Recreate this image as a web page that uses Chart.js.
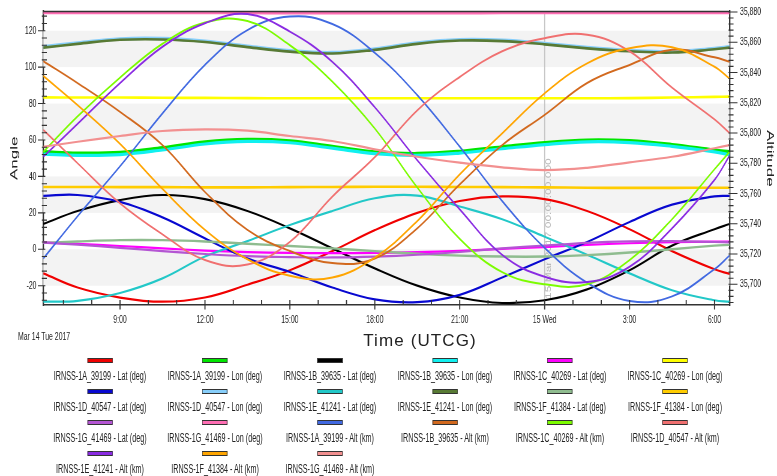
<!DOCTYPE html>
<html>
<head>
<meta charset="utf-8">
<script src="https://cdn.jsdelivr.net/npm/chart.js@4.4.1/dist/chart.umd.min.js"></script>
<style>
  html, body { margin: 0; padding: 0; background: #fff; overflow: hidden; width: 777px; height: 476px; }
  /* the figure is laid out wide and condensed horizontally */
  #stage { position: absolute; left: 0; top: 0; width: 1295px; height: 476px; transform: scaleX(0.6); transform-origin: 0 0; }
  #plot { position: absolute; left: 0; top: 0; }
  #dateLabel { position: absolute; left: 30px; top: 329px; font: 11.5px 'Liberation Sans', Arial, sans-serif; line-height: 14px; color: #222; white-space: nowrap; }
  #timeTitle { position: absolute; left: 320px; width: 200px; top: 330.5px; text-align: center; font: 17px 'Liberation Sans', Arial, sans-serif; letter-spacing: 1.1px; line-height: 20px; color: #222; white-space: nowrap; }
  .item { position: absolute; width: 190px; display: flex; flex-direction: column; align-items: center; }
  .item .box { width: 40px; height: 3px; border: 1px solid #333; }
  .item .txt { margin-top: 6px; font: 12px 'Liberation Sans', Arial, sans-serif; line-height: 14px; color: #222; white-space: nowrap; }
</style>
</head>
<body>
<div id="stage">
  <canvas id="plot" width="1295" height="350"></canvas>
  <div id="dateLabel">Mar 14 Tue 2017</div>
  <div id="legend"></div>
</div>
<div id="timeTitle">Time (UTCG)</div>
<script>
// Sample times, hours from Mar 14 2017 00:00 UTCG
const hours = [6.29, 7.5, 9, 10.5, 12, 13.5, 15, 16.5, 18, 19.5, 21, 22.5, 24, 25.5, 27, 28.5, 30, 30.53];

// Axis ticks
const timeTicks = [9, 12, 15, 18, 21, 24, 27, 30];
const timeTickLabels = ['9:00', '12:00', '15:00', '18:00', '21:00', '15 Wed', '3:00', '6:00'];
const angleTicks = [-20, 0, 20, 40, 60, 80, 100, 120];
const altitudeTicks = [35700, 35720, 35740, 35760, 35780, 35800, 35820, 35840, 35860, 35880];

// Latitude / longitude (deg)
const lat1A = [-13.2, -21, -26.5, -28.8, -26.5, -19.5, -11.5, -1, 10.5, 20, 26.5, 29, 27.5, 21, 11, -1, -11, -13.5];
const lon1A = [53.6, 52.8, 53.2, 55.8, 59, 60.3, 59.5, 56.5, 53.5, 52.6, 53.8, 56.3, 58.6, 60, 59.6, 57.5, 54.5, 53.6];
const lat1B = [13.9, 21, 27, 29.8, 27.5, 21, 11.5, 0.5, -10.5, -20, -26.5, -29.5, -28, -22, -11.5, 2, 11, 13.9];
const lon1B = [52.2, 51.6, 52, 54.5, 57.8, 59.2, 58.5, 55.5, 52.5, 51.6, 52.8, 55.2, 57.5, 59, 58.6, 56.5, 53.5, 51.8];
const lat1C = [3.8, 3, 1.8, 0.5, -0.7, -1.6, -2, -2.1, -2, -1.6, -0.8, 0.2, 1.2, 2.4, 3.3, 3.9, 4.2, 4.2];
const lon1C = [83.4, 83.3, 83.3, 83.2, 83.1, 83, 82.9, 82.9, 82.9, 82.9, 82.9, 82.9, 82.9, 82.9, 83, 83.3, 83.7, 83.8];
const lat1D = [29.3, 29.8, 26, 17.5, 6, -5, -12.5, -21, -27.5, -29, -25, -15.5, -5.5, 4, 15, 24.5, 29, 29.3];
const lon1D = [111.2, 113.3, 115.5, 115.7, 114.3, 111.5, 109, 108, 110, 113.3, 115.1, 114.8, 113, 110.8, 109.2, 108.5, 110.3, 111.2];
const lat1E = [-28.8, -28.3, -24, -16, -4, 4.5, 13.3, 21, 28, 29.5, 23.5, 16.5, 6.9, -3, -13.2, -22.5, -28, -28.8];
const lon1E = [110.7, 112.8, 115, 115.2, 113.8, 111, 108.5, 107.5, 109.5, 112.8, 114.6, 114.3, 112.5, 110.3, 108.7, 108, 109.8, 110.7];
const lat1F = [3.5, 4.3, 5, 5, 4.3, 3, 1.8, 0.5, -1, -2.5, -3.5, -4, -4, -3.2, -1.8, 0, 2, 2.4];
const lon1F = [34.2, 34.2, 34.1, 34.1, 34, 34, 34.1, 34.2, 34.3, 34.3, 34.2, 34.1, 34, 33.8, 33.7, 33.7, 33.8, 33.8];
const lat1G = [3.6, 2.5, 0.8, -1, -2.6, -3.8, -4.3, -4.5, -4, -3, -1.5, 0.5, 2, 3.5, 4.3, 4.5, 4, 3.8];
const lon1G = [129.8, 129.8, 129.8, 129.8, 129.8, 129.8, 129.7, 129.7, 129.7, 129.7, 129.7, 129.8, 129.8, 129.8, 129.8, 129.8, 129.8, 129.8];

// Altitude (km)
const alt1A = [35717, 35745, 35778, 35813, 35845, 35868, 35877, 35872, 35853, 35825, 35791, 35755, 35724, 35701, 35689, 35692, 35710, 35719];
const alt1B = [35847.5, 35833, 35814, 35792, 35761, 35736, 35722, 35714, 35717, 35737, 35766, 35792, 35812, 35833, 35845, 35855, 35850, 35847];
const alt1C = [35787.5, 35811, 35836.6, 35859, 35873, 35874, 35858, 35834, 35803, 35764, 35730, 35708, 35700, 35700, 35716, 35743, 35776, 35787.5];
const alt1D = [35802, 35780, 35753.5, 35733, 35716, 35713, 35728, 35758, 35784, 35815, 35837, 35854, 35862.6, 35865, 35854, 35830, 35809, 35800];
const alt1E = [35784.3, 35806, 35833, 35857, 35872.5, 35878.6, 35867, 35847, 35817, 35782, 35749.5, 35719.4, 35705, 35701.5, 35711.6, 35737, 35769, 35785];
const alt1F = [35837.7, 35818.4, 35792.8, 35763, 35736, 35716.5, 35705.7, 35704.4, 35717.6, 35741.8, 35772.7, 35799.8, 35826.2, 35846, 35856, 35856.6, 35843.8, 35836];
const alt1G = [35790.9, 35794.2, 35798, 35801.3, 35802.4, 35801.5, 35798, 35794.7, 35789.2, 35784.3, 35780.4, 35777.3, 35775.5, 35777, 35780.6, 35784.3, 35789.9, 35792];

const seriesLabels = [
  'IRNSS-1A_39199 - Lat (deg)', 'IRNSS-1A_39199 - Lon (deg)', 'IRNSS-1B_39635 - Lat (deg)',
  'IRNSS-1B_39635 - Lon (deg)', 'IRNSS-1C_40269 - Lat (deg)', 'IRNSS-1C_40269 - Lon (deg)',
  'IRNSS-1D_40547 - Lat (deg)', 'IRNSS-1D_40547 - Lon (deg)', 'IRNSS-1E_41241 - Lat (deg)',
  'IRNSS-1E_41241 - Lon (deg)', 'IRNSS-1F_41384 - Lat (deg)', 'IRNSS-1F_41384 - Lon (deg)',
  'IRNSS-1G_41469 - Lat (deg)', 'IRNSS-1G_41469 - Lon (deg)', 'IRNSS-1A_39199 - Alt (km)',
  'IRNSS-1B_39635 - Alt (km)', 'IRNSS-1C_40269 - Alt (km)', 'IRNSS-1D_40547 - Alt (km)',
  'IRNSS-1E_41241 - Alt (km)', 'IRNSS-1F_41384 - Alt (km)', 'IRNSS-1G_41469 - Alt (km)'
];
const seriesValues = [
  lat1A, lon1A, lat1B, lon1B, lat1C, lon1C, lat1D, lon1D, lat1E, lon1E, lat1F, lon1F, lat1G, lon1G,
  alt1A, alt1B, alt1C, alt1D, alt1E, alt1F, alt1G
];

// Styling
const seriesColors = [
  '#f00000', '#00e600', '#000000', '#10f0f0', '#ff00ff', '#ffff00',
  '#0808d0', '#87cefa', '#22c8c8', '#587a34', '#8fbc8f', '#ffcc00',
  '#b455d3', '#ff6eb4', '#4169e1', '#d2691e', '#7cfc00', '#f07070',
  '#8a2be2', '#ffa500', '#f29090'
];
const seriesWidths = [
  2.2, 3.2, 2.2, 3.2, 2.2, 2.6,
  2.2, 3.4, 2.2, 2.6, 2.4, 2.6,
  2.2, 3, 2, 2, 2, 2,
  2, 2, 2.2
];

const SQUEEZE = 0.6;            // horizontal condensing of the figure
const px = v => v / SQUEEZE;    // screen x-size -> layout x-size

const datasets = seriesLabels.map((label, i) => ({
  label,
  data: hours.map((h, k) => ({ x: h, y: seriesValues[i][k] })),
  yAxisID: label.endsWith('(km)') ? 'yAlt' : 'yAngle',
  borderColor: seriesColors[i],
  backgroundColor: seriesColors[i],
  borderWidth: seriesWidths[i],
  pointRadius: 0,
  tension: 0.4,
  fill: false,
  order: seriesLabels.length - i
}));

// Alternating light bands behind the data, every other angle interval
const bandPlugin = {
  id: 'bands',
  beforeDatasetsDraw(chart) {
    const { ctx, chartArea: a } = chart;
    const y = chart.scales.yAngle;
    ctx.save();
    ctx.fillStyle = '#f3f3f3';
    for (let i = 0; i + 1 < angleTicks.length; i += 2) {
      const top = y.getPixelForValue(angleTicks[i + 1]);
      const bot = y.getPixelForValue(angleTicks[i]);
      ctx.fillRect(a.left, top, a.right - a.left, bot - top);
    }
    ctx.restore();
  }
};

// Current-time marker at 15 Mar 00:00
const markerTime = 24;
const markerText = '15 Mar 2017 00:00:00.000';
const markerPlugin = {
  id: 'marker',
  beforeDatasetsDraw(chart) {
    const { ctx, chartArea: a } = chart;
    const x = chart.scales.x.getPixelForValue(markerTime);
    ctx.save();
    ctx.strokeStyle = '#c4c4c4';
    ctx.lineWidth = px(1);
    ctx.beginPath();
    ctx.moveTo(x, a.top);
    ctx.lineTo(x, a.bottom);
    ctx.stroke();
    ctx.translate(x + px(4.2), a.bottom - 6);
    ctx.rotate(-Math.PI / 2);
    ctx.fillStyle = '#b8b8b8';
    ctx.font = "12px 'Liberation Sans', Arial, sans-serif";
    ctx.textAlign = 'left';
    ctx.textBaseline = 'middle';
    ctx.fillText(markerText, 0, 0);
    ctx.restore();
  }
};

// Tick marks (major and minor) and the top frame line
const tickPlugin = {
  id: 'tickMarks',
  afterDraw(chart) {
    const { ctx, chartArea: a, scales } = chart;
    ctx.save();
    ctx.strokeStyle = '#333';
    ctx.lineWidth = 1.6;
    ctx.beginPath();
    ctx.moveTo(a.left, a.top);
    ctx.lineTo(a.right, a.top);
    ctx.stroke();
    // time axis: hourly minor, 3-hourly major
    ctx.lineWidth = px(1.1);
    ctx.beginPath();
    for (let h = Math.ceil(scales.x.min); h <= scales.x.max; h++) {
      const x = scales.x.getPixelForValue(h);
      const major = timeTicks.includes(h);
      ctx.moveTo(x, a.bottom - 5);
      ctx.lineTo(x, a.bottom + (major ? 4.5 : 0));
    }
    ctx.stroke();
    // angle axis
    ctx.lineWidth = 1.1;
    ctx.beginPath();
    for (let v = -28; v <= scales.yAngle.max; v += 4) {
      const y = scales.yAngle.getPixelForValue(v);
      const major = angleTicks.includes(v);
      ctx.moveTo(a.left - px(major ? 5.5 : 1.5), y);
      ctx.lineTo(a.left + px(major ? 2 : 3.5), y);
    }
    // altitude axis
    for (let v = 35688; v <= scales.yAlt.max + 0.5; v += 4) {
      const y = scales.yAlt.getPixelForValue(v);
      const major = altitudeTicks.includes(v);
      ctx.moveTo(a.right - px(1), y);
      ctx.lineTo(a.right + px(major ? 8 : 4), y);
    }
    ctx.stroke();
    ctx.restore();
  }
};

// keep the plot rectangle exactly where the layout puts it
const noEdgePadding = s => { s.paddingTop = 0; s.paddingBottom = 0; s.paddingLeft = 0; s.paddingRight = 0; };

Chart.defaults.font.family = "'Liberation Sans', Arial, sans-serif";
Chart.defaults.color = '#222';

const tickFont = { size: 11.5 };
const noGrid = { display: false, drawTicks: false };

const chart = new Chart(document.getElementById('plot'), {
  type: 'line',
  data: { datasets },
  options: {
    responsive: false,
    animation: false,
    devicePixelRatio: 1,
    events: [],
    layout: { padding: { top: 11.5, left: 0, right: 0, bottom: 0 } },
    plugins: { legend: { display: false }, tooltip: { enabled: false } },
    scales: {
      x: {
        type: 'linear',
        min: 6.29,
        max: 30.53,
        grid: noGrid,
        border: { display: true, color: '#333', width: 1.6 },
        afterBuildTicks: s => { s.ticks = timeTicks.map(v => ({ value: v })); },
        ticks: {
          autoSkip: false, maxRotation: 0, padding: 8.4, font: tickFont, color: '#222',
          callback: v => timeTickLabels[timeTicks.indexOf(v)]
        },
        afterFit: s => { s.height = 45; noEdgePadding(s); }
      },
      yAngle: {
        type: 'linear',
        position: 'left',
        min: -30.6,
        max: 130.55,
        grid: noGrid,
        border: { display: true, color: '#333', width: px(1.4) },
        afterBuildTicks: s => { s.ticks = angleTicks.map(v => ({ value: v })); },
        ticks: { padding: 11.4, font: tickFont, color: '#222' },
        title: { display: true, text: 'Angle', font: { size: 17 }, color: '#222', padding: { top: 14, bottom: 0 } },
        afterFit: s => { s.width = px(43.3); noEdgePadding(s); }
      },
      yAlt: {
        type: 'linear',
        position: 'right',
        min: 35686.3,
        max: 35880.3,
        grid: noGrid,
        border: { display: true, color: '#333', width: px(1.4) },
        afterBuildTicks: s => { s.ticks = altitudeTicks.map(v => ({ value: v })); },
        ticks: { padding: 17.5, font: tickFont, color: '#222' },
        title: { display: true, text: 'Altitude', font: { size: 17 }, color: '#222', padding: { top: 2.3, bottom: 0 } },
        afterFit: s => { s.width = 1295 - px(729.5); noEdgePadding(s); }
      }
    }
  },
  plugins: [bandPlugin, markerPlugin, tickPlugin]
});

// Legend: six columns, swatch above label
const legendCols = 6;
const legendColCenters = [100, 215, 330, 445, 560, 675].map(px);
const legendRowTop = 357.5;
const legendRowStep = 31;
const legendEl = document.getElementById('legend');
chart.data.datasets.forEach((ds, i) => {
  const col = i % legendCols;
  const row = Math.floor(i / legendCols);
  const item = document.createElement('div');
  item.className = 'item';
  item.style.left = (legendColCenters[col] - 95) + 'px';
  item.style.top = (legendRowTop + row * legendRowStep) + 'px';
  const box = document.createElement('div');
  box.className = 'box';
  box.style.background = ds.borderColor;
  const txt = document.createElement('div');
  txt.className = 'txt';
  txt.textContent = ds.label;
  item.appendChild(box);
  item.appendChild(txt);
  legendEl.appendChild(item);
});
</script>
</body>
</html>
